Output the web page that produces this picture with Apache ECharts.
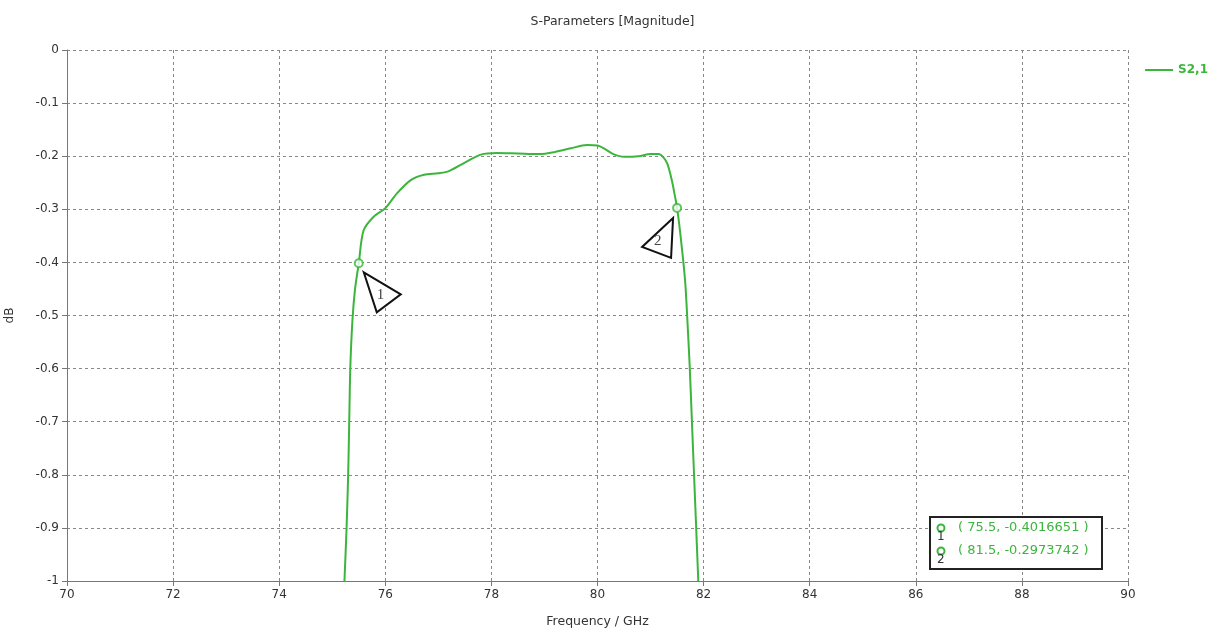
<!DOCTYPE html>
<html><head><meta charset="utf-8">
<script src="https://cdn.jsdelivr.net/npm/echarts@6/dist/echarts.min.js"></script>
<style>html,body{margin:0;padding:0;background:#fff}#c{width:1225px;height:637px}</style>
</head><body><div id="c"></div>
<script>
const freq = [75.23,75.27,75.30,75.32,75.34,75.38,75.43,75.5,75.59,75.78,76.0,76.22,76.48,76.73,77.0,77.2,77.5,77.8,78.1,78.5,78.9,79.2,79.5,79.8,80.0,80.15,80.3,80.5,80.77,81.0,81.15,81.25,81.32,81.4,81.45,81.5,81.56,81.65,81.7,81.74,81.78,81.82,81.86,81.9];
const s21  = [-1.0,-0.9,-0.8,-0.7,-0.6,-0.51,-0.45,-0.4016651,-0.34,-0.314,-0.298,-0.27,-0.245,-0.235,-0.232,-0.228,-0.212,-0.197,-0.194,-0.195,-0.196,-0.192,-0.185,-0.179,-0.18,-0.187,-0.196,-0.201,-0.2,-0.196,-0.196,-0.203,-0.215,-0.245,-0.27,-0.2973742,-0.345,-0.433,-0.52,-0.6,-0.7,-0.8,-0.9,-1.0];
const markerX = [75.5, 81.5];
const markerY = [-0.4016651, -0.2973742];
const markerNames = ['1','2'];
const seriesName = 'S2,1';
const green = '#3cb53c';
const FONT = 'DejaVu Sans';

const chart = echarts.init(document.getElementById('c'));
chart.setOption({
  animation:false,
  title:{text:'S-Parameters [Magnitude]',left:'center',top:10,textStyle:{fontFamily:FONT,fontSize:12.5,fontWeight:'normal',color:'#333'}},
  legend:{data:[{name:seriesName,icon:'rect'}],right:12,top:59,itemWidth:28,itemHeight:2,itemGap:6,textStyle:{color:green,fontFamily:FONT,fontSize:12,fontWeight:'bold'}},
  grid:{left:67,right:97,top:50,bottom:56,containLabel:false,outerBoundsMode:'none'},
  xAxis:{type:'value',min:70,max:90,interval:2,name:'Frequency / GHz',nameLocation:'middle',nameGap:34,
    nameTextStyle:{fontFamily:FONT,fontSize:12.5,color:'#333'},
    axisLine:{show:true,onZero:false,lineStyle:{color:'#777'}},
    axisTick:{show:true,length:5,lineStyle:{color:'#777'}},
    axisLabel:{fontFamily:FONT,fontSize:12,color:'#333',margin:8},
    splitLine:{show:true,lineStyle:{color:'#888',type:[3,3]}}},
  yAxis:{type:'value',min:-1,max:0,interval:0.1,name:'dB',nameLocation:'middle',nameGap:51,nameRotate:90,
    nameTextStyle:{fontFamily:FONT,fontSize:12,color:'#333'},
    axisLine:{show:true,onZero:false,lineStyle:{color:'#777'}},
    axisTick:{show:true,length:5,lineStyle:{color:'#777'}},
    axisLabel:{fontFamily:FONT,fontSize:12,color:'#333',margin:8},
    splitLine:{show:true,lineStyle:{color:'#888',type:[3,3]}}},
  series:[
    {name:seriesName,type:'line',data:freq.map((f,i)=>[f,s21[i]]),smooth:0.3,showSymbol:false,
     lineStyle:{color:green,width:2},itemStyle:{color:green},z:3},
    {name:'markers',type:'scatter',data:markerX.map((x,i)=>[x,markerY[i]]),symbol:'emptyCircle',symbolSize:8,
     itemStyle:{color:green,borderColor:green,borderWidth:2},z:5}
  ]
});

// annotation triangles anchored on marker data positions
const p1 = chart.convertToPixel({seriesIndex:0}, [markerX[0], markerY[0]]);
const p2 = chart.convertToPixel({seriesIndex:0}, [markerX[1], markerY[1]]);
const tri = (p, offs) => offs.map(o=>[p[0]+o[0], p[1]+o[1]]);
const graphics = [
  {type:'polygon',shape:{points:tri(p1,[[5,9],[42,31],[18,49]])},style:{fill:'#fff',stroke:'#111',lineWidth:2},z:10},
  {type:'text',x:p1[0]+18,y:p1[1]+24,style:{text:markerNames[0],fill:'#444',font:'15px Liberation Serif'},z:11},
  {type:'polygon',shape:{points:tri(p2,[[-4,10],[-35,39],[-6,50]])},style:{fill:'#fff',stroke:'#111',lineWidth:2},z:10},
  {type:'text',x:p2[0]-23,y:p2[1]+26,style:{text:markerNames[1],fill:'#444',font:'15px Liberation Serif'},z:11},
  // marker readout box
  {type:'rect',shape:{x:930,y:517,width:172,height:52},style:{fill:'#fff',stroke:'#222',lineWidth:2},z:10}
];
markerX.forEach((x,i)=>{
  const y0 = 528 + i*23;
  graphics.push({type:'circle',shape:{cx:941,cy:y0,r:3.5},style:{fill:'none',stroke:green,lineWidth:2},z:11});
  graphics.push({type:'text',x:937,y:y0+3,style:{text:markerNames[i],fill:'#333',font:'12px DejaVu Sans'},z:11});
  graphics.push({type:'text',x:958,y:y0-7,style:{text:'( '+x+', '+markerY[i]+' )',fill:green,font:'13px DejaVu Sans'},z:11});
});
chart.setOption({graphic:graphics});
</script></body></html>
